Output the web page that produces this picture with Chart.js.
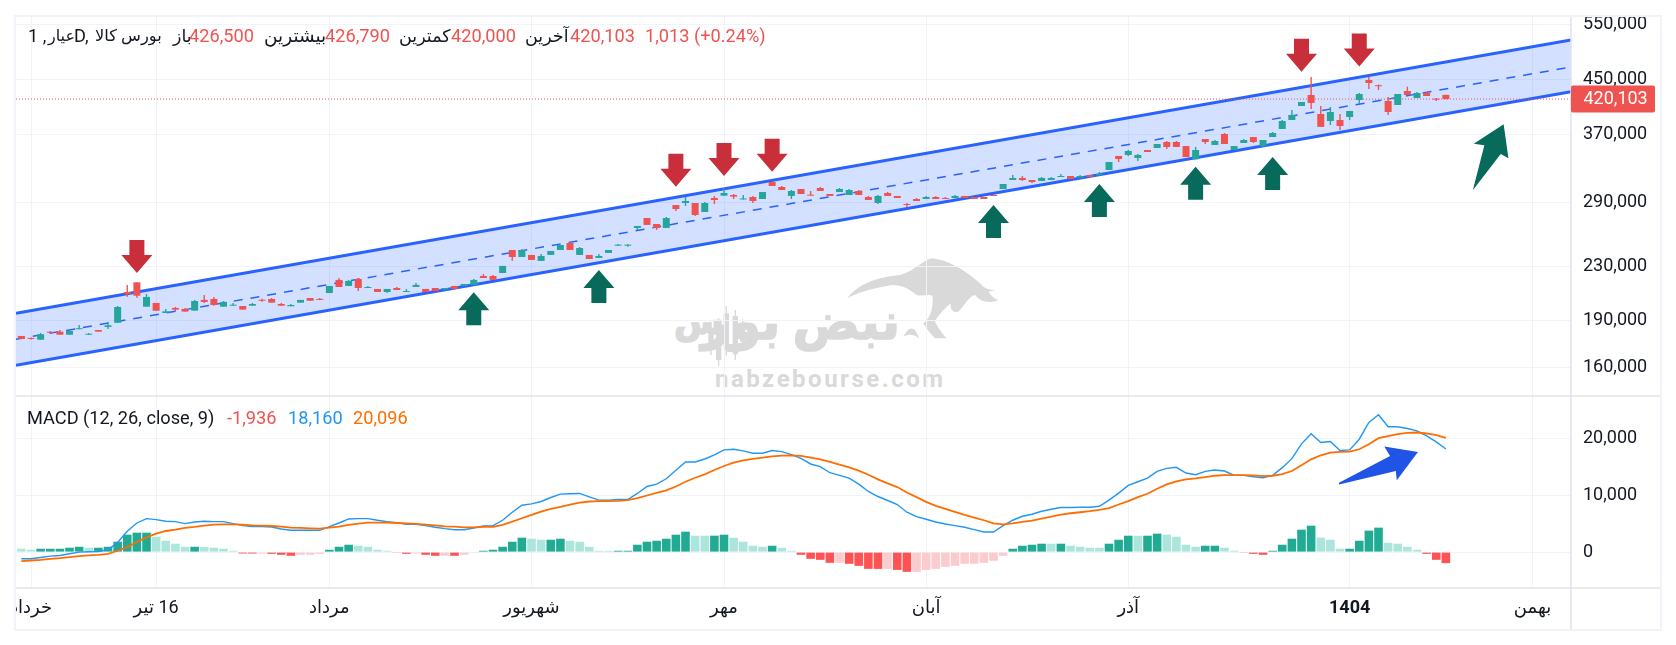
<!DOCTYPE html>
<html lang="fa">
<head>
    <meta charset="UTF-8">
    <title>MACD - بورس کالا</title>
    <script src="https://cdn.jsdelivr.net/npm/chart.js"></script>
    <style>
        html, body { margin: 0; padding: 0; background: #fff; width: 1676px; height: 645px; overflow: hidden; }
        body { font-family: Roboto, "DejaVu Sans", sans-serif; font-size: 18.2px; color: #131722; }
        #frame { position: absolute; left: 14px; top: 15px; width: 1648px; height: 616px; box-sizing: border-box; border: 2px solid #f0f3fa; }
        #chart { position: absolute; left: 16px; top: 17px; z-index: 1; }
        #logo { position: absolute; left: 640px; top: 240px; z-index: 0; }
        .mark { position: absolute; z-index: 0; color: #d9d9d9; font-weight: bold; white-space: pre; }
        .logotype { -webkit-text-stroke: 1.6px #d9d9d9; line-height: 62px; top: 291px; }
        .t { position: absolute; z-index: 2; line-height: 22px; white-space: pre; }
        .fa { font-size: 17.5px; }
        .red { color: #ef5350; }
        .blue { color: #2196f3; }
        .orange { color: #ff6d00; }
    </style>
</head>
<body>
    <div id="frame"></div>
    <svg id="logo" width="380" height="160" viewBox="0 0 1140 480" fill="#d9d9d9">
        <path d="M622,175 C660,125 720,112 780,105 C820,95 850,60 875,55 C930,60 990,100 1030,140 C1045,150 1060,150 1068,150 L1045,155 C1055,170 1065,178 1076,180 C1050,192 1020,185 1005,165 C990,165 975,195 955,215 C940,220 930,210 932,190 C915,205 895,225 885,245 C895,265 910,285 920,295 L885,295 C870,280 855,260 850,250 C870,235 880,205 878,170 C870,160 850,170 830,165 C800,140 770,130 740,138 C710,145 665,150 622,175 Z"/>
        <path d="M790,290 C805,262 822,250 838,296 C822,282 808,282 790,290 Z"/>
        <rect x="211" y="245" width="4" height="100"/><rect x="205" y="265" width="16" height="60"/>
        <rect x="234" y="235" width="4" height="143"/><rect x="228" y="250" width="16" height="110"/>
        <rect x="257" y="198" width="4" height="148"/><rect x="251" y="220" width="16" height="110"/>
        <rect x="284" y="210" width="4" height="150"/><rect x="278" y="228" width="16" height="115"/>
        <rect x="306" y="238" width="4" height="85"/><rect x="300" y="255" width="16" height="50"/>
    </svg>
    <div class="mark logotype" style="right:776px;font-size:50px;" dir="rtl">نبض بور</div>
    <div class="mark logotype" style="left:674px;font-size:36px;" dir="rtl">س</div>
    <div class="mark" style="left:715px;top:365px;font-size:24px;line-height:28px;letter-spacing:2.5px;">nabzebourse.com</div>

    <span class="t" style="left:28px;top:25px;">1 ,</span>
    <span class="t" style="left:48px;top:25px;font-size:16px;">عیار</span>
    <span class="t" style="left:74px;top:25px;">D,</span>
    <span class="t" style="left:95px;top:25px;font-size:16.3px;">بورس کالا</span>
    <span class="t fa" style="left:173px;top:25px;">باز</span>
    <span class="t red" style="left:189px;top:25px;">426,500</span>
    <span class="t" style="left:264px;top:25px;font-size:18.5px;">بیشترین</span>
    <span class="t red" style="left:325px;top:25px;">426,790</span>
    <span class="t fa" style="left:399px;top:25px;">کمترین</span>
    <span class="t red" style="left:451px;top:25px;">420,000</span>
    <span class="t fa" style="left:525px;top:25px;">آخرین</span>
    <span class="t red" style="left:570px;top:25px;">420,103</span>
    <span class="t red" style="left:645px;top:25px;">1,013 (+0.24%)</span>

    <span class="t" style="left:27px;top:407px;">MACD (12, 26, close, 9)</span>
    <span class="t red" style="left:227px;top:407px;">-1,936</span>
    <span class="t blue" style="left:288px;top:407px;">18,160</span>
    <span class="t orange" style="left:353px;top:407px;">20,096</span>

    <canvas id="chart" width="1644" height="612"></canvas>

    <script>
        const opens = [
            179500, 178200, 177100, 182100, 182300, 180300, 183900, 180300, 183400, 185400,
            188200, 210200, 217600, 199400, 202100, 194900, 198500, 197800, 196600, 204300,
            205000, 199400, 200100, 199900, 200100, 204300, 205000, 201300, 199700, 202300,
            205700, 205000, 209400, 219500, 214800, 220200, 213200, 212500, 210200, 213200,
            210200, 214000, 212500, 213200, 212000, 214800, 214800, 215600, 222600, 222600,
            225000, 244400, 238300, 240100, 235000, 240100, 244400, 250600, 240100, 240100,
            237500, 241800, 248200, 248200, 264500, 274100, 268300, 264500, 287200, 289300,
            289300, 280100, 294500, 297000, 297700, 293000, 295600, 293500, 312000, 306400,
            296700, 304200, 297700, 305300, 298800, 300900, 297700, 302000, 295600, 289300,
            299900, 296700, 288200, 293500, 293500, 295600, 294500, 294500, 296700, 295600,
            295600, 297700, 304200, 314200, 316500, 314200, 313100, 314200, 317600, 318700,
            316800, 319900, 319500, 325700, 342500, 343700, 340000, 349900, 352400, 360100,
            360100, 354900, 338400, 364000, 356300, 370600, 349900, 358800, 366600, 354900,
            366600, 377300, 389700, 409800, 426300, 398200, 388300, 389700, 393900, 418700,
            449800, 440700, 417200, 411300, 432400, 421700, 429400, 420300, 426500
        ];
        const highs = [
            179500, 178500, 181400, 182700, 183400, 182700, 186700, 181400, 183400, 188700,
            199900, 215600, 217600, 208700, 202100, 197800, 199200, 198500, 204300, 207900,
            206500, 203500, 202100, 199900, 202100, 205200, 205700, 202100, 201300, 204300,
            205700, 205700, 214800, 221000, 219500, 221000, 214800, 212500, 212500, 214000,
            212500, 217100, 212500, 213200, 213200, 214800, 216300, 220200, 224200, 223400,
            230800, 244400, 245300, 240100, 240900, 243500, 248800, 251500, 247000, 240100,
            240900, 244400, 249700, 249700, 266400, 274100, 268300, 275100, 287200, 295600,
            289300, 290300, 296700, 305300, 298800, 297700, 296700, 300900, 312000, 307500,
            303100, 304200, 302000, 306400, 298800, 305300, 304200, 303100, 296700, 297700,
            300900, 296700, 289300, 294500, 296700, 296700, 295600, 297700, 296700, 295600,
            295600, 297700, 309700, 319900, 318700, 314200, 317600, 317600, 321000, 318700,
            319900, 319900, 323300, 335100, 342500, 349900, 344900, 349900, 357500, 361400,
            361400, 354900, 353700, 364000, 362700, 371900, 354900, 364000, 366600, 362700,
            373300, 389700, 403900, 415700, 454700, 409800, 408300, 398200, 402500, 429400,
            454700, 442600, 423200, 427800, 439200, 430900, 430900, 421700, 426790
        ];
        const lows = [
            177600, 177300, 177100, 181600, 180300, 180300, 183900, 180100, 182300, 184100,
            188200, 206700, 205900, 199400, 196500, 194900, 196300, 195900, 196600, 202100,
            200100, 199400, 200100, 197300, 200100, 203000, 202300, 200100, 199700, 202300,
            203700, 204300, 209400, 214000, 214800, 210900, 213200, 210200, 209700, 211700,
            210200, 214000, 210200, 210900, 212000, 212500, 214800, 215600, 221000, 219500,
            225000, 235200, 238300, 235800, 235000, 240100, 244400, 244400, 240100, 236600,
            237500, 241800, 248200, 247300, 262600, 267400, 262600, 264500, 281100, 286200,
            276100, 280100, 288200, 297000, 293500, 293000, 289300, 293500, 307500, 303100,
            293500, 298800, 297000, 302000, 296700, 300900, 297700, 297700, 292400, 288200,
            296700, 294500, 285200, 291400, 293500, 293500, 293500, 294500, 294500, 293500,
            293500, 296700, 304200, 314200, 313100, 310800, 313100, 314200, 317600, 315300,
            316800, 317600, 319500, 325700, 335100, 342500, 336300, 347400, 352400, 351200,
            353700, 341200, 338400, 357500, 356300, 357500, 349900, 358800, 358800, 353700,
            366600, 377300, 389700, 409800, 405400, 380200, 382800, 375900, 389700, 412700,
            435600, 434000, 396800, 411300, 426300, 421700, 424700, 417200, 420000
        ];
        const closes = [
            177600, 177600, 180600, 181600, 180300, 182700, 184100, 180800, 182300, 186500,
            199200, 208700, 207400, 206500, 196500, 196100, 197300, 195900, 203500, 202800,
            200600, 202800, 200600, 197300, 201300, 203700, 202300, 200100, 200600, 204300,
            203700, 204300, 214800, 214000, 218700, 213200, 214000, 210200, 212500, 211700,
            210900, 215600, 210200, 210900, 213200, 212500, 216300, 219500, 221000, 219500,
            230800, 238300, 244400, 235800, 239200, 243500, 248800, 244400, 246100, 236600,
            239200, 244400, 248800, 248800, 266400, 267400, 264500, 274100, 283100, 291400,
            277100, 289300, 292400, 299900, 296000, 293500, 291400, 300900, 307500, 303100,
            302000, 298800, 297000, 302000, 296700, 304200, 303100, 297700, 292400, 296700,
            296700, 294500, 287200, 291400, 295600, 293500, 293500, 296700, 294500, 293500,
            293500, 296700, 309700, 316500, 314200, 312000, 316500, 316500, 318700, 315300,
            318700, 317600, 321000, 335100, 338800, 348700, 343700, 347400, 357500, 353700,
            353700, 341200, 349900, 360100, 361400, 357500, 354900, 362700, 360100, 362700,
            371900, 388300, 396800, 415700, 414300, 380200, 401000, 381400, 402500, 427800,
            445000, 439900, 401000, 427800, 426300, 429400, 424700, 419200, 420103
        ];

        const macdLine = [
            -1180, -1180, -940, -710, -590, -300, 0, 60, 120, 410,
            1710, 3660, 5130, 5900, 5720, 5430, 5370, 5020, 5310, 5430,
            5370, 5370, 5020, 4660, 4480, 4480, 4430, 4070, 3840, 3840,
            3840, 3840, 4480, 5130, 5840, 5900, 5900, 5610, 5370, 5190,
            4900, 4900, 4660, 4370, 4130, 3950, 3950, 4250, 4600, 4660,
            5610, 7020, 8260, 8500, 8910, 9620, 10210, 10270, 10330, 9740,
            9150, 9150, 9260, 9260, 10330, 11560, 11980, 12920, 14400, 15870,
            15870, 16400, 17110, 18000, 18110, 17820, 17410, 17410, 17880, 17700,
            17170, 16520, 15520, 15050, 13980, 13510, 13040, 11980, 10680, 9790,
            9090, 8380, 7020, 6250, 5780, 5310, 4960, 4660, 4370, 3950,
            3540, 3540, 4660, 5610, 6310, 6670, 7200, 7550, 7850, 7850,
            7910, 7910, 8080, 9150, 10380, 11740, 12390, 13040, 14220, 14750,
            14930, 13920, 13630, 14220, 14460, 14280, 13510, 13510, 13280, 13100,
            13510, 14870, 16460, 19060, 20830, 19290, 19470, 17880, 18000, 19880,
            22830, 24190, 22070, 22070, 21770, 21360, 20470, 19410, 18160
        ];
        const signalLine = [
            -1590, -1480, -1360, -1180, -1060, -890, -710, -590, -470, -300,
            240, 890, 1770, 2600, 3250, 3720, 3950, 4250, 4430, 4660,
            4840, 4900, 4900, 4840, 4720, 4660, 4600, 4480, 4310, 4250,
            4190, 4130, 4310, 4480, 4780, 5020, 5190, 5190, 5190, 5130,
            5070, 4960, 4840, 4720, 4540, 4480, 4370, 4370, 4430, 4430,
            4780, 5370, 5960, 6550, 7140, 7610, 7970, 8380, 8730, 8910,
            8970, 8970, 9030, 9150, 9500, 9970, 10440, 10860, 11560, 12390,
            13100, 13690, 14460, 15160, 15750, 16170, 16400, 16640, 16870, 16990,
            17050, 16930, 16640, 16340, 15870, 15400, 14930, 14340, 13630, 12800,
            12100, 11450, 10500, 9680, 8850, 8140, 7610, 7080, 6550, 6080,
            5610, 5070, 4900, 5070, 5310, 5550, 5900, 6250, 6610, 6840,
            7020, 7200, 7430, 7730, 8380, 8970, 9680, 10270, 11150, 11920,
            12450, 12800, 12980, 13220, 13450, 13570, 13570, 13570, 13510, 13390,
            13450, 13750, 14280, 15280, 16340, 17050, 17520, 17640, 17700, 18110,
            19000, 20060, 20410, 20770, 21000, 21060, 20890, 20590, 20096
        ];
        const macdHist = [
            590, 410, 590, 590, 590, 770, 940, 770, 770, 940,
            1830, 3070, 3420, 3420, 2710, 2000, 1480, 940, 940, 900,
            770, 590, 240, -240, -250, -240, -300, -470, -650, -470,
            -460, -300, 410, 940, 1300, 1120, 940, 410, 240, -120,
            -300, -240, -470, -650, -640, -650, -470, -120, 240, 410,
            940, 1830, 2540, 2360, 2180, 2180, 2360, 2000, 1830, 940,
            240, 230, 240, 240, 1300, 1830, 2000, 2360, 3070, 3600,
            2890, 2880, 2890, 3070, 2540, 1830, 1120, 940, 1120, 770,
            240, -470, -1180, -1360, -1890, -1880, -2060, -2420, -2950, -2960,
            -2950, -3130, -3480, -3470, -3130, -2950, -2600, -2420, -2060, -2050,
            -1890, -1530, -650, 590, 1120, 1300, 1480, 1470, 1480, 1120,
            940, 770, 760, 1480, 2180, 2890, 2880, 2890, 3250, 3070,
            2710, 1300, 940, 1120, 1120, 770, 240, -120, -300, -470,
            240, 1300, 2360, 3950, 4660, 2540, 2180, 590, 590, 2000,
            3780, 4310, 1650, 1480, 940, 410, -300, -1360, -1936
        ];

        const priceTicks = [550000, 450000, 370000, 290000, 230000, 190000, 160000];
        const macdTicks = [20000, 10000, 0];
        const dateIndex = [1, 14, 32, 53, 73, 94, 115, 138, 157];
        const dateLabels = ['خرداد', '16 تیر', 'مرداد', 'شهریور', 'مهر', 'آبان', 'آذر', '1404', 'بهمن'];

        // trend channel, ends at the chart edges
        const channelBars = [-0.56, 161];
        const channelUpper = [194700, 519300];
        const channelMiddle = [177400, 471300];
        const channelLower = [161600, 431400];
        const lastPrice = 420103;

        // [bar, price] of the arrow tips
        const downArrows = [[12, 225100], [68, 306700], [73, 318700], [78, 323700], [133, 463500], [139, 472000]];
        const upArrows = [[47, 210000], [60, 227400], [101, 287200], [112, 309700], [122, 329600], [130, 341200]];
        // drawn arrows, as [bar, value] outlines
        const bigGreenArrow = [[154, 383700], [150.9, 358000], [152, 355900], [150.8, 302900], [153.7, 344900], [154.5, 339600]];
        const bigBlueArrow = [[141.6, 18580], [145.1, 17630], [142.9, 12670], [142.8, 14270], [136.9, 11910], [136.9, 12210], [142.2, 16920]];

        const DOWN = '#ef5350';
        const bars = closes.map((c, i) => i);
        const candleColors = closes.map((c, i) => c >= opens[i] ? '#26a69a' : DOWN);
        const histColors = macdHist.map((v, i) => {
            const rising = i > 0 && v >= macdHist[i - 1];
            if (v >= 0) return rising ? '#22ab94' : '#ace5dc';
            return rising ? '#fccbcd' : '#ff5252';
        });

        function poly(ctx, pts) {
            ctx.beginPath();
            pts.forEach((p, i) => i ? ctx.lineTo(p[0], p[1]) : ctx.moveTo(p[0], p[1]));
            ctx.closePath();
            ctx.fill();
        }

        const arrowsPlugin = {
            id: 'arrows',
            afterDatasetsDraw(chart) {
                const { ctx, scales } = chart;
                const x = scales.x, y = scales.yPrice, m = scales.yMacd;
                ctx.save();
                ctx.fillStyle = '#c92e3b';
                downArrows.forEach(a => {
                    const px = x.getPixelForValue(a[0]), py = y.getPixelForValue(a[1]);
                    poly(ctx, [[px, py], [px - 15.5, py - 18], [px - 7.5, py - 18], [px - 7.5, py - 33], [px + 7.5, py - 33], [px + 7.5, py - 18], [px + 15.5, py - 18]]);
                });
                ctx.fillStyle = '#076a5a';
                upArrows.forEach(a => {
                    const px = x.getPixelForValue(a[0]), py = y.getPixelForValue(a[1]);
                    poly(ctx, [[px, py], [px - 15.5, py + 18], [px - 7.5, py + 18], [px - 7.5, py + 33], [px + 7.5, py + 33], [px + 7.5, py + 18], [px + 15.5, py + 18]]);
                });
                poly(ctx, bigGreenArrow.map(a => [x.getPixelForValue(a[0]), y.getPixelForValue(a[1])]));
                ctx.fillStyle = '#1f54e6';
                poly(ctx, bigBlueArrow.map(a => [x.getPixelForValue(a[0]), m.getPixelForValue(a[1])]));
                ctx.restore();
            }
        };

        const panesPlugin = {
            id: 'panes',
            afterDraw(chart) {
                const { ctx, scales, chartArea, width, height } = chart;
                ctx.save();
                ctx.strokeStyle = '#e0e3eb';
                ctx.lineWidth = 1.5;
                ctx.beginPath();
                [scales.yPrice.bottom, scales.yMacd.bottom].forEach(y => {
                    ctx.moveTo(0, y);
                    ctx.lineTo(width, y);
                });
                ctx.moveTo(chartArea.right, 0);
                ctx.lineTo(chartArea.right, height);
                ctx.stroke();

                // last price label
                const py = scales.yPrice.getPixelForValue(lastPrice);
                ctx.fillStyle = DOWN;
                ctx.beginPath();
                ctx.roundRect(chartArea.right, py - 13.5, 84, 27, 2);
                ctx.fill();
                ctx.fillStyle = '#fff';
                ctx.font = '18px Roboto, "DejaVu Sans", sans-serif';
                ctx.textBaseline = 'middle';
                ctx.fillText(lastPrice.toLocaleString('en-US'), chartArea.right + 12.5, py + 0.5);
                ctx.restore();
            }
        };

        function noPadding(s) {
            s.paddingLeft = s.paddingRight = s.paddingTop = s.paddingBottom = 0;
        }

        Chart.defaults.font.family = 'Roboto, "DejaVu Sans", sans-serif';
        Chart.defaults.font.size = 18;
        Chart.defaults.color = '#131722';

        new Chart(document.getElementById('chart'), {
            type: 'bar',
            data: {
                datasets: [
                    {
                        type: 'bar',
                        label: 'candle body',
                        yAxisID: 'yPrice',
                        data: bars.map(i => ({ x: i, y: [opens[i], closes[i]] })),
                        backgroundColor: candleColors,
                        grouped: false,
                        categoryPercentage: 1,
                        barPercentage: 1,
                        maxBarThickness: 7,
                        minBarLength: 1,
                        inflateAmount: 0,
                        order: 1
                    },
                    {
                        type: 'bar',
                        label: 'candle wick',
                        yAxisID: 'yPrice',
                        data: bars.map(i => ({ x: i, y: [lows[i], highs[i]] })),
                        backgroundColor: candleColors,
                        grouped: false,
                        categoryPercentage: 1,
                        barPercentage: 1,
                        maxBarThickness: 1.4,
                        inflateAmount: 0,
                        order: 2
                    },
                    {
                        type: 'line',
                        label: 'channel upper',
                        yAxisID: 'yPrice',
                        data: channelBars.map((x, i) => ({ x: x, y: channelUpper[i] })),
                        borderColor: '#2962ff',
                        borderWidth: 3,
                        pointRadius: 0,
                        backgroundColor: 'rgba(41, 98, 255, 0.2)',
                        fill: '+1',
                        order: 5
                    },
                    {
                        type: 'line',
                        label: 'channel lower',
                        yAxisID: 'yPrice',
                        data: channelBars.map((x, i) => ({ x: x, y: channelLower[i] })),
                        borderColor: '#2962ff',
                        borderWidth: 3,
                        pointRadius: 0,
                        fill: false,
                        order: 6
                    },
                    {
                        type: 'line',
                        label: 'channel middle',
                        yAxisID: 'yPrice',
                        data: channelBars.map((x, i) => ({ x: x, y: channelMiddle[i] })),
                        borderColor: '#2962ff',
                        borderWidth: 1.5,
                        borderDash: [9, 8],
                        pointRadius: 0,
                        fill: false,
                        order: 4
                    },
                    {
                        type: 'line',
                        label: 'last price',
                        yAxisID: 'yPrice',
                        data: channelBars.map(x => ({ x: x, y: lastPrice })),
                        borderColor: DOWN,
                        borderWidth: 1,
                        borderDash: [1, 2],
                        pointRadius: 0,
                        fill: false,
                        order: 3
                    },
                    {
                        type: 'bar',
                        label: 'histogram',
                        yAxisID: 'yMacd',
                        data: bars.map(i => ({ x: i, y: macdHist[i] })),
                        backgroundColor: histColors,
                        grouped: false,
                        categoryPercentage: 1,
                        barPercentage: 1,
                        maxBarThickness: 8.6,
                        inflateAmount: 0,
                        order: 9
                    },
                    {
                        type: 'line',
                        label: 'signal',
                        yAxisID: 'yMacd',
                        data: bars.map(i => ({ x: i, y: signalLine[i] })),
                        borderColor: '#ff6d00',
                        borderWidth: 1.8,
                        pointRadius: 0,
                        fill: false,
                        order: 7
                    },
                    {
                        type: 'line',
                        label: 'macd',
                        yAxisID: 'yMacd',
                        data: bars.map(i => ({ x: i, y: macdLine[i] })),
                        borderColor: '#2196f3',
                        borderWidth: 1.4,
                        pointRadius: 0,
                        fill: false,
                        order: 8
                    }
                ]
            },
            options: {
                responsive: false,
                animation: false,
                layout: { autoPadding: false, padding: 0 },
                plugins: { legend: { display: false }, tooltip: { enabled: false } },
                scales: {
                    x: {
                        type: 'linear',
                        min: -0.56,
                        max: 161,
                        offset: false,
                        grid: { color: '#f0f3fa', offset: false, drawTicks: false },
                        border: { display: false },
                        ticks: {
                            autoSkip: false,
                            maxRotation: 0,
                            padding: 10,
                            font: ctx => ({ weight: ctx.tick && ctx.tick.value === 138 ? 'bold' : 'normal' }),
                            callback: v => '\u200f' + dateLabels[dateIndex.indexOf(v)]
                        },
                        afterBuildTicks: s => { s.ticks = dateIndex.map(v => ({ value: v })); },
                        afterFit: s => { s.height = 41; noPadding(s); }
                    },
                    yPrice: {
                        type: 'logarithmic',
                        position: 'right',
                        stack: 'panes',
                        stackWeight: 379,
                        min: 144700,
                        max: 564000,
                        grid: { color: '#f0f3fa', drawTicks: false },
                        border: { display: false },
                        ticks: {
                            autoSkip: false,
                            padding: 12,
                            callback: v => v.toLocaleString('en-US')
                        },
                        afterBuildTicks: s => { s.ticks = priceTicks.map(v => ({ value: v })); },
                        afterFit: s => { s.width = 89; noPadding(s); }
                    },
                    yMacd: {
                        type: 'linear',
                        position: 'right',
                        stack: 'panes',
                        stackWeight: 192,
                        min: -6320,
                        max: 27490,
                        grid: { color: '#f0f3fa', drawTicks: false },
                        border: { display: false },
                        ticks: {
                            autoSkip: false,
                            padding: 12,
                            callback: v => v.toLocaleString('en-US')
                        },
                        afterBuildTicks: s => { s.ticks = macdTicks.map(v => ({ value: v })); },
                        afterFit: s => { s.width = 89; noPadding(s); }
                    }
                }
            },
            plugins: [arrowsPlugin, panesPlugin]
        });
    </script>
</body>
</html>
